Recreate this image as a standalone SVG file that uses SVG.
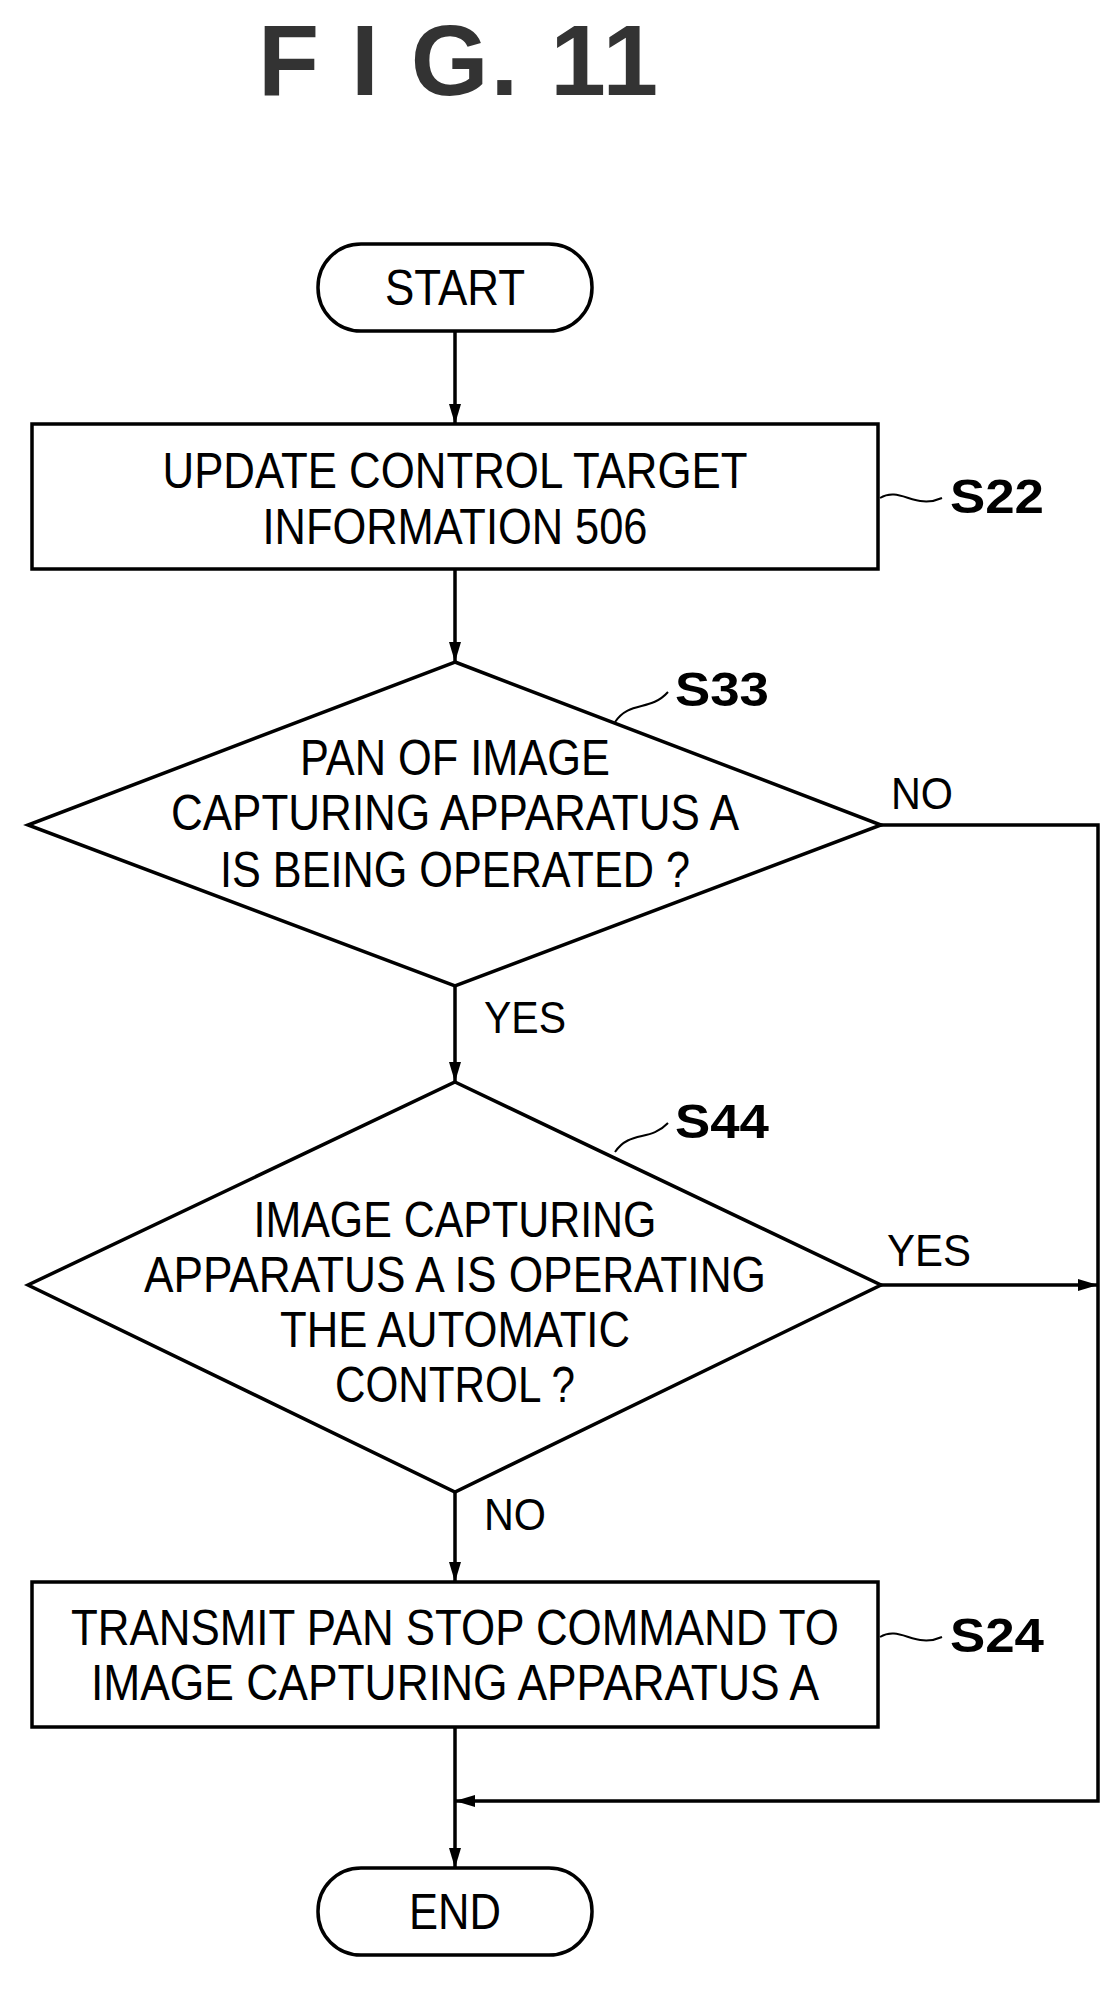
<svg xmlns="http://www.w3.org/2000/svg" width="1120" height="1992" viewBox="0 0 1120 1992">
<style>
.s{fill:none;stroke:#000;stroke-width:3.5}
.t{font-family:"Liberation Sans",Arial,sans-serif;font-size:50px;fill:#000;text-anchor:middle}
.l{font-family:"Liberation Sans",Arial,sans-serif;font-size:48px;font-weight:bold;fill:#000}
.y{font-family:"Liberation Sans",Arial,sans-serif;font-size:44px;fill:#000}
.c{fill:none;stroke:#000;stroke-width:2}
</style>
<defs>
<marker id="a" viewBox="0 0 20 12" refX="20" refY="6" markerWidth="20" markerHeight="12" markerUnits="userSpaceOnUse" orient="auto">
<path d="M0,0 L20,6 L0,12 Z" fill="#000"/>
</marker>
</defs>
<text x="458" y="95" font-family="Liberation Sans,Arial,sans-serif" font-weight="bold" font-size="100" fill="#333" text-anchor="middle" textLength="400" lengthAdjust="spacing">F I G.  11</text>
<g id="start"><rect class="s" x="318" y="244" width="274" height="87" rx="43"/><text class="t" x="455" y="305" textLength="140" lengthAdjust="spacingAndGlyphs">START</text></g>
<g id="s22"><rect class="s" x="32" y="424" width="846" height="145"/>
<text class="t" x="455" y="488" textLength="585" lengthAdjust="spacingAndGlyphs">UPDATE CONTROL TARGET</text>
<text class="t" x="455" y="544" textLength="385" lengthAdjust="spacingAndGlyphs">INFORMATION 506</text>
<path class="c" d="M880,498 C900,486 915,510 942,498"/><text class="l" x="950" y="513" textLength="94" lengthAdjust="spacingAndGlyphs">S22</text></g>
<g id="s33"><polygon class="s" points="455,662 881,825 455,986 28,825"/>
<text class="t" x="455" y="775" textLength="310" lengthAdjust="spacingAndGlyphs">PAN OF IMAGE</text>
<text class="t" x="455" y="830" textLength="568" lengthAdjust="spacingAndGlyphs">CAPTURING APPARATUS A</text>
<text class="t" x="455" y="887" textLength="470" lengthAdjust="spacingAndGlyphs">IS BEING OPERATED ?</text>
<path class="c" d="M615,722 C630,700 650,712 668,692"/><text class="l" x="675" y="706" textLength="94" lengthAdjust="spacingAndGlyphs">S33</text></g>
<g id="s44"><polygon class="s" points="455,1082 881,1285 455,1492 28,1285"/>
<text class="t" x="455" y="1237" textLength="403" lengthAdjust="spacingAndGlyphs">IMAGE CAPTURING</text>
<text class="t" x="455" y="1292" textLength="622" lengthAdjust="spacingAndGlyphs">APPARATUS A IS OPERATING</text>
<text class="t" x="455" y="1347" textLength="350" lengthAdjust="spacingAndGlyphs">THE AUTOMATIC</text>
<text class="t" x="455" y="1402" textLength="240" lengthAdjust="spacingAndGlyphs">CONTROL ?</text>
<path class="c" d="M615,1152 C630,1130 650,1142 668,1123"/><text class="l" x="675" y="1138" textLength="94" lengthAdjust="spacingAndGlyphs">S44</text></g>
<g id="s24"><rect class="s" x="32" y="1582" width="846" height="145"/>
<text class="t" x="455" y="1645" textLength="768" lengthAdjust="spacingAndGlyphs">TRANSMIT PAN STOP COMMAND TO</text>
<text class="t" x="455" y="1700" textLength="728" lengthAdjust="spacingAndGlyphs">IMAGE CAPTURING APPARATUS A</text>
<path class="c" d="M880,1637 C900,1625 915,1649 942,1637"/><text class="l" x="950" y="1652" textLength="94" lengthAdjust="spacingAndGlyphs">S24</text></g>
<g id="end"><rect class="s" x="318" y="1868" width="274" height="87" rx="43"/><text class="t" x="455" y="1929" textLength="92" lengthAdjust="spacingAndGlyphs">END</text></g>
<g id="connectors">
<line class="s" x1="455" y1="331" x2="455" y2="424" marker-end="url(#a)"/>
<line class="s" x1="455" y1="569" x2="455" y2="662" marker-end="url(#a)"/>
<line class="s" x1="455" y1="986" x2="455" y2="1082" marker-end="url(#a)"/>
<line class="s" x1="455" y1="1492" x2="455" y2="1582" marker-end="url(#a)"/>
<line class="s" x1="455" y1="1727" x2="455" y2="1868" marker-end="url(#a)"/>
<polyline class="s" points="881,825 1098,825 1098,1801 455,1801" marker-end="url(#a)"/>
<line class="s" x1="881" y1="1285" x2="1098" y2="1285" marker-end="url(#a)"/>
<text class="y" x="891" y="809" textLength="62" lengthAdjust="spacingAndGlyphs">NO</text>
<text class="y" x="484" y="1033" textLength="82" lengthAdjust="spacingAndGlyphs">YES</text>
<text class="y" x="887" y="1266" textLength="84" lengthAdjust="spacingAndGlyphs">YES</text>
<text class="y" x="484" y="1530" textLength="62" lengthAdjust="spacingAndGlyphs">NO</text>
</g>
</svg>
